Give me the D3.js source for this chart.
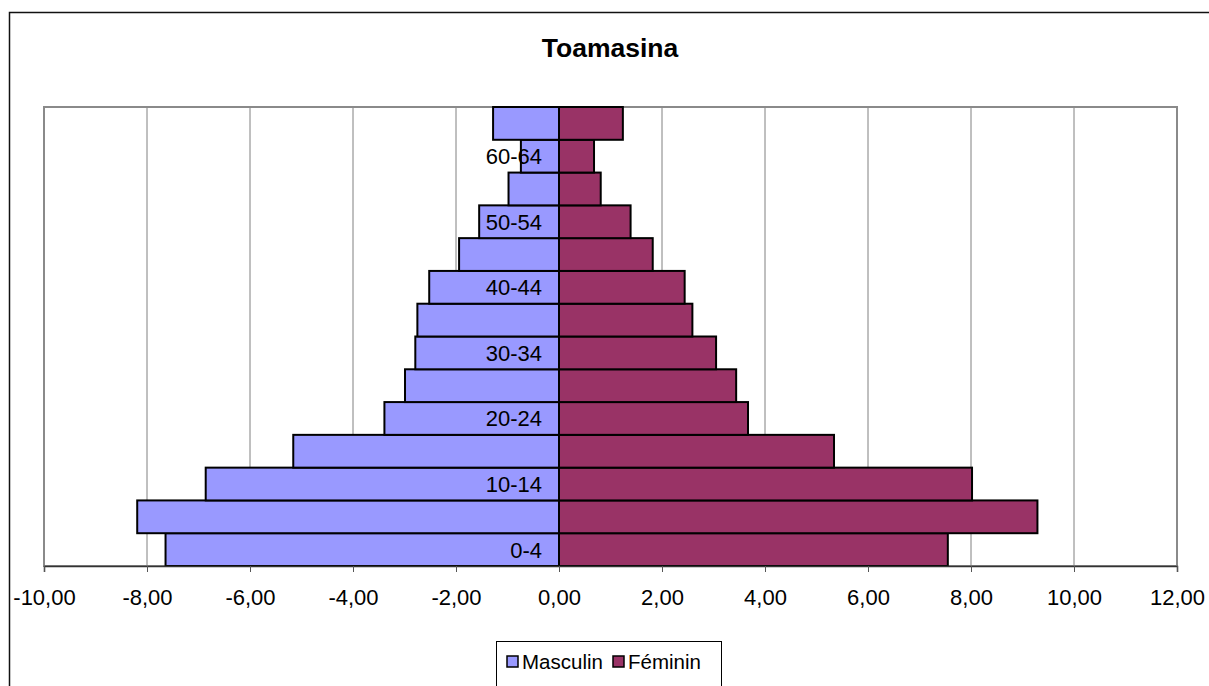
<!DOCTYPE html>
<html>
<head>
<meta charset="utf-8">
<script src="https://cdn.jsdelivr.net/npm/d3@7"></script>
<style>
  body { margin: 0; background: #fff; }
  svg { display: block; font-family: "Liberation Sans", Arial, sans-serif; }
</style>
</head>
<body>
<svg id="chart"></svg>
<script>
// age groups, bottom to top
const ages = ["0-4","5-9","10-14","15-19","20-24","25-29","30-34","35-39",
              "40-44","45-49","50-54","55-59","60-64","65+"]
// percentages (men shown negative)
const masculin = [-7.64,-8.19,-6.86,-5.16,-3.39,-2.99,-2.79,-2.75,
                  -2.52,-1.94,-1.55,-0.98,-0.74,-1.28]
const feminin  = [7.55,9.29,8.02,5.34,3.67,3.44,3.05,2.59,
                  2.44,1.82,1.39,0.81,0.68,1.24]
const xTicks = [-10,-8,-6,-4,-2,0,2,4,6,8,10,12]
const ageLabels = ["0-4","10-14","20-24","30-34","40-44","50-54","60-64"]

const width = 1209, height = 686
const margin = {top: 107, right: 32, bottom: 120, left: 44}

const svg = d3.select("#chart")
    .attr("width", width)
    .attr("height", height)

// outer chart border (runs off the right and bottom of the picture)
svg.append("rect")
    .attr("x", 9.5).attr("y", 12.5)
    .attr("width", width).attr("height", height)
    .attr("fill", "none").attr("stroke", "#111").attr("stroke-width", 1.5)

svg.append("text")
    .attr("x", 610).attr("y", 57)
    .attr("text-anchor", "middle")
    .attr("font-size", 26.5).attr("font-weight", "bold")
    .text("Toamasina")

const x = d3.scaleLinear()
    .domain([-10, 12])
    .range([margin.left, width - margin.right])

const y = d3.scaleBand()
    .domain(ages)
    .range([height - margin.bottom, margin.top])
    .padding(0)

// vertical gridlines
svg.append("g")
    .selectAll("line")
    .data(xTicks.slice(1, -1))
    .join("line")
      .attr("x1", d => x(d)).attr("x2", d => x(d))
      .attr("y1", margin.top).attr("y2", height - margin.bottom)
      .attr("stroke", "#808080").attr("stroke-width", 1)

// plot area border
svg.append("rect")
    .attr("x", x(-10)).attr("y", margin.top)
    .attr("width", x(12) - x(-10))
    .attr("height", height - margin.bottom - margin.top)
    .attr("fill", "none").attr("stroke", "#8a8a8a").attr("stroke-width", 2)

const rows = ages.map((a, i) => ({age: a, m: masculin[i], f: feminin[i]}))

svg.append("g")
    .selectAll("rect")
    .data(rows)
    .join("rect")
      .attr("x", d => x(d.m))
      .attr("y", d => y(d.age))
      .attr("width", d => x(0) - x(d.m))
      .attr("height", y.bandwidth())
      .attr("fill", "#9999ff")
      .attr("stroke", "#000").attr("stroke-width", 2)

svg.append("g")
    .selectAll("rect")
    .data(rows)
    .join("rect")
      .attr("x", x(0))
      .attr("y", d => y(d.age))
      .attr("width", d => x(d.f) - x(0))
      .attr("height", y.bandwidth())
      .attr("fill", "#993366")
      .attr("stroke", "#000").attr("stroke-width", 2)

// x axis
const xAxis = svg.append("g")
    .attr("transform", `translate(0,${height - margin.bottom})`)
    .call(d3.axisBottom(x)
        .tickValues(xTicks)
        .tickSize(6)
        .tickPadding(17)
        .tickFormat(d => d3.format(".2f")(d).replace(".", ",").replace("−", "-")))
xAxis.select(".domain").attr("stroke", "#333").attr("stroke-width", 1.5)
xAxis.selectAll(".tick line").attr("stroke", "#555")
xAxis.selectAll("text")
    .attr("font-size", 22)
    .attr("font-family", "Liberation Sans, Arial, sans-serif")
    .attr("fill", "#000")

// age labels sit just left of the zero line, on top of the bars
svg.append("g")
    .selectAll("text")
    .data(ageLabels)
    .join("text")
      .attr("x", x(0) - 17)
      .attr("y", d => y(d) + y.bandwidth() / 2)
      .attr("dy", "0.36em")
      .attr("text-anchor", "end")
      .attr("font-size", 22)
      .text(d => d)

// legend
const legend = svg.append("g")
legend.append("rect")
    .attr("x", 496.5).attr("y", 641.5)
    .attr("width", 225).attr("height", 50)
    .attr("fill", "#fff").attr("stroke", "#000").attr("stroke-width", 1)

const items = [{name: "Masculin", color: "#9999ff", x: 507},
               {name: "Féminin", color: "#993366", x: 613}]
items.forEach(it => {
  legend.append("rect")
      .attr("x", it.x).attr("y", 656)
      .attr("width", 11).attr("height", 11)
      .attr("fill", it.color).attr("stroke", "#000").attr("stroke-width", 1.5)
  legend.append("text")
      .attr("x", it.x + 15).attr("y", 669)
      .attr("font-size", 20.5)
      .text(it.name)
})
</script>
</body>
</html>
